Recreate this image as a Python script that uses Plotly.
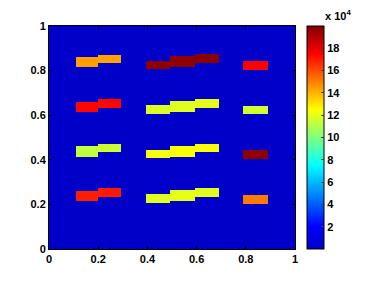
import plotly.graph_objects as go

# rectangles (x0, x1, y0, y1) in data units and their values
rect_x0 = [0.108, 0.198, 0.394, 0.493, 0.593, 0.79] * 4
rect_x1 = [0.198, 0.294, 0.493, 0.593, 0.692, 0.89] * 4
rect_y0 = [0.214, 0.234, 0.207, 0.214, 0.234, 0.204,
           0.414, 0.434, 0.407, 0.414, 0.434, 0.404,
           0.614, 0.634, 0.607, 0.614, 0.634, 0.604,
           0.814, 0.834, 0.807, 0.814, 0.834, 0.804]
rect_y1 = [0.261, 0.272, 0.245, 0.264, 0.273, 0.243,
           0.461, 0.472, 0.445, 0.464, 0.473, 0.443,
           0.661, 0.672, 0.645, 0.664, 0.673, 0.643,
           0.861, 0.872, 0.845, 0.864, 0.873, 0.843]
rect_val = [16900, 17000, 11900, 12000, 11900, 15100,
            11300, 11500, 12300, 12400, 12400, 19700,
            17400, 17400, 11800, 11900, 12000, 11600,
            14400, 14300, 19700, 19700, 19800, 17500]

background = 0
cbar_ticks = [2000, 4000, 6000, 8000, 10000, 12000, 14000, 16000, 18000]
cbar_labels = ['2', '4', '6', '8', '10', '12', '14', '16', '18']
axis_ticks = [0, 0.2, 0.4, 0.6, 0.8, 1]
axis_labels = ['0', '0.2', '0.4', '0.6', '0.8', '1']

# build grid of cell edges from the rectangles
xe = sorted(set([0.0, 1.0] + rect_x0 + rect_x1))
ye = sorted(set([0.0, 1.0] + rect_y0 + rect_y1))
z = []
for j in range(len(ye) - 1):
    yc = (ye[j] + ye[j + 1]) / 2
    row = []
    for i in range(len(xe) - 1):
        xc = (xe[i] + xe[i + 1]) / 2
        v = background
        for k in range(len(rect_val)):
            if rect_x0[k] < xc < rect_x1[k] and rect_y0[k] < yc < rect_y1[k]:
                v = rect_val[k]
        row.append(v)
    z.append(row)

jet = [[0.0, '#0000C8'], [0.1, '#0000FF'], [0.375, '#00FFFF'],
       [0.625, '#FFFF00'], [0.875, '#FF0000'], [1.0, '#800000']]

font = dict(family='Liberation Sans, Arial, sans-serif', size=11, color='black', weight='bold')

fig = go.Figure(go.Heatmap(
    x=xe, y=ye, z=z,
    zmin=0, zmax=20000,
    colorscale=jet,
    colorbar=dict(
        x=1.049, xanchor='left', xpad=0,
        y=0.5, yanchor='middle', len=1.0, lenmode='fraction', ypad=0,
        thickness=17, outlinewidth=1, outlinecolor='black',
        tickvals=cbar_ticks, ticktext=cbar_labels,
        ticks='inside', ticklen=3, tickcolor='#444444',
        tickfont=font,
    ),
))

fig.add_annotation(
    text='x 10<sup>4</sup>', xref='paper', yref='paper',
    x=1.115, y=1.05, xanchor='left', yanchor='middle',
    showarrow=False, font=font,
)

axis = dict(range=[0, 1], showgrid=False, zeroline=False,
            showline=True, linecolor='black', linewidth=1, mirror='ticks',
            ticks='inside', ticklen=3, tickcolor='black',
            tickfont=font)
fig.update_xaxes(tickvals=axis_ticks, ticktext=axis_labels, **axis)
fig.update_yaxes(tickvals=axis_ticks, ticktext=axis_labels, **axis)

# page body adds an 8px offset, so the figure is 8px smaller
fig.update_layout(
    width=366, height=273,
    margin=dict(l=41, r=79, t=13, b=32),
    paper_bgcolor='white', plot_bgcolor='white',
)

fig.write_html('out.html')
